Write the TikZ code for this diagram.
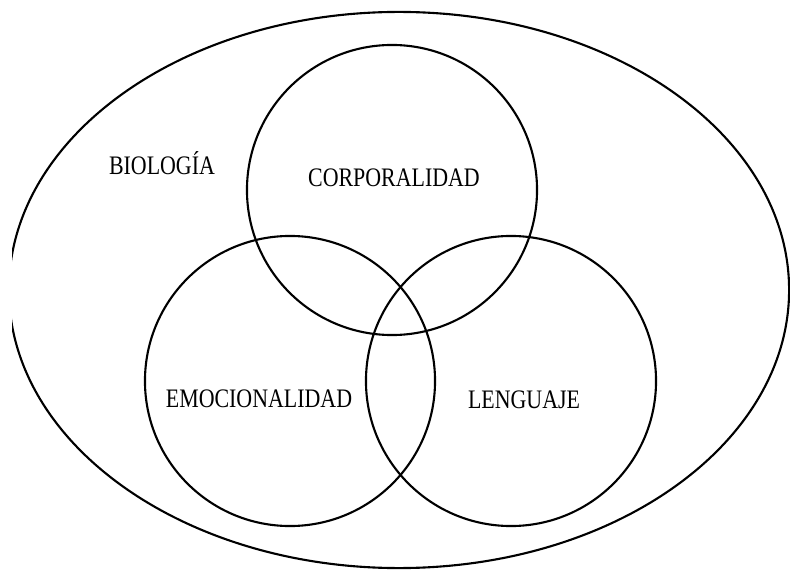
\documentclass[tikz,border=0pt]{standalone}
\usepackage{fontspec}
\setmainfont{Liberation Serif}[FakeStretch=0.82]
\usetikzlibrary{shapes.geometric,positioning}

\begin{document}
\begin{tikzpicture}[
        x=0.025cm, y=-0.025cm,
        field/.style={ellipse, draw, line width=1.5pt, minimum width=19.5cm, minimum height=13.9cm, inner sep=0pt},
        area/.style={circle, draw, line width=1.5pt, minimum size=7.25cm, inner sep=0pt},
        tag/.style={anchor=base, inner sep=0pt, font=\fontsize{19}{22}\selectfont}
    ]
        \useasboundingbox (0,0) rectangle (790,571);

        % Biologia (cut at the left edge)
        \begin{scope}
            \clip (12,0) rectangle (790,571);
            \node[field] (bio) at (399,290) {};
        \end{scope}

        % Circles
        \node[area] (corp) at (392,190) {};
        \node[area] (emoc) at (290,381) {};
        \node[area] (leng) at (511,381) {};

        % Labels
        \node[tag] (biotag) at (162,175) {BIOLOGÍA};
        \node[tag] (corptag) at (394,187) {CORPORALIDAD};
        \node[tag] (emoctag) at (259,407) {EMOCIONALIDAD};
        \node[tag] (lengtag) at (524,408) {LENGUAJE};

\end{tikzpicture}
\end{document}
